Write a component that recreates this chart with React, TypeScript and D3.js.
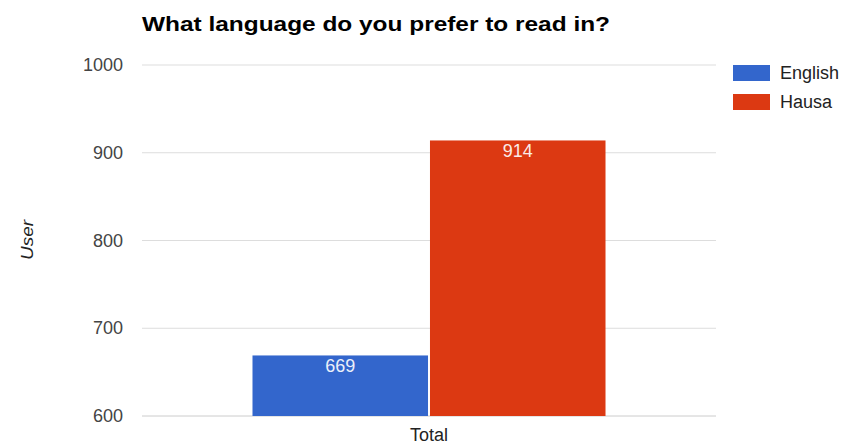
import React from "react";
import * as d3 from "d3";

const categories = ["Total"];
const seriesNames = ["English", "Hausa"];
const englishValues = [669];
const hausaValues = [914];
const yTicks = [600, 700, 800, 900, 1000];
const colors = ["#3366cc", "#dc3912"];
const title = "What language do you prefer to read in?";
const yLabel = "User";

export default function App() {
  const W = 843, H = 446;
  const left = 142, right = 716, top = 65, bottom = 416;
  const y = d3.scaleLinear().domain([600, 1000]).range([bottom, top]);
  const x0 = d3.scaleBand().domain(categories).range([left, right]).paddingInner(0).paddingOuter(0.313);
  const x1 = d3.scaleBand().domain(seriesNames).range([0, x0.bandwidth()]).paddingInner(0.011);
  const series = [englishValues, hausaValues];
  const font = "'Liberation Sans', Arial, sans-serif";
  return (
    <svg width={W} height={H} style={{ position: "absolute", left: 0, top: 0, background: "#fff" }} fontFamily={font}>
      <text x={142} y={31} fontSize={21} fontWeight="bold" fill="#000" textLength={468} lengthAdjust="spacingAndGlyphs">{title}</text>
      {yTicks.map((t) => (
        <g key={t}>
          <line x1={left} x2={right} y1={y(t)} y2={y(t)} stroke={t === 600 ? "#cccccc" : "#dddddd"} strokeWidth={1} />
          <text x={123} y={y(t) + 6} fontSize={18} fill="#444" textAnchor="end">{t}</text>
        </g>
      ))}
      <text transform={`translate(33,240) rotate(-90)`} fontSize={17} fontStyle="italic" fill="#222" textAnchor="middle" textLength={40} lengthAdjust="spacingAndGlyphs">{yLabel}</text>
      {categories.map((c, ci) => (
        <g key={c}>
          {seriesNames.map((s, si) => {
            const v = series[si][ci];
            const bx = (x0(c) as number) + (x1(s) as number);
            const bw = x1.bandwidth();
            return (
              <g key={s}>
                <rect x={bx} y={y(v)} width={bw} height={y(600) - y(v)} fill={colors[si]} />
                <text x={bx + bw / 2} y={y(v) + 16.5} fontSize={18} fill="#fff" textAnchor="middle" opacity={0.9}>{v}</text>
              </g>
            );
          })}
          <text x={(x0(c) as number) + x0.bandwidth() / 2} y={441} fontSize={18} fill="#222" textAnchor="middle">{c}</text>
        </g>
      ))}
      {seriesNames.map((s, i) => (
        <g key={s}>
          <rect x={733} y={65 + i * 29} width={37} height={16} fill={colors[i]} />
          <text x={780} y={78.5 + i * 29} fontSize={18} fill="#222">{s}</text>
        </g>
      ))}
    </svg>
  );
}
